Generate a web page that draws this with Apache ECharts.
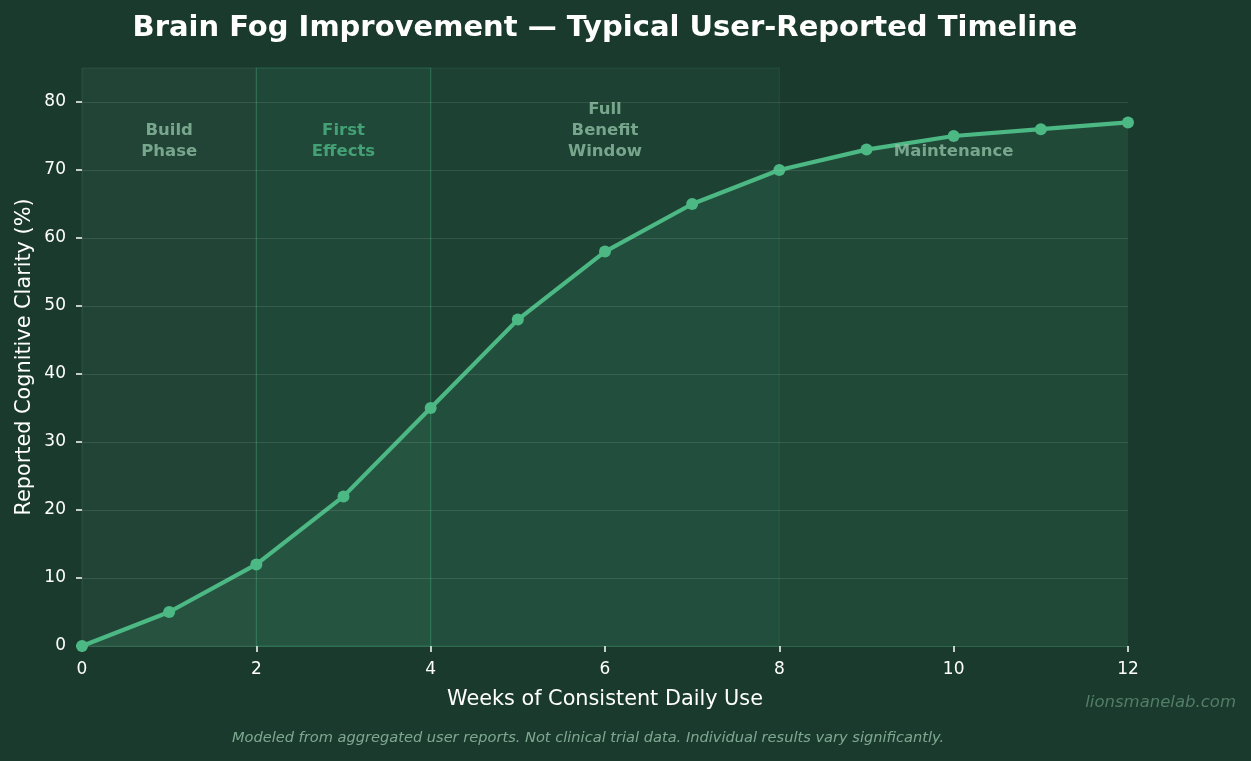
<!DOCTYPE html>
<html>
<head>
<meta charset="utf-8">
<script src="https://cdn.jsdelivr.net/npm/echarts@6/dist/echarts.min.js"></script>
<style>
  html, body { margin: 0; padding: 0; background: #1b3a2e; }
  #chart { width: 1251px; height: 761px; }
</style>
</head>
<body>
<div id="chart"></div>
<script>
// weeks and reported clarity values
var weeks = [0, 1, 2, 3, 4, 5, 6, 7, 8, 9, 10, 11, 12];
var clarity = [0, 5, 12, 22, 35, 48, 58, 65, 70, 73, 75, 76, 77];

// timeline phases (x ranges)
var phaseStart = [0, 2, 4];
var phaseEnd = [2, 4, 8];
var phaseColors = ['rgba(130,190,160,0.08)', 'rgba(76,184,132,0.12)', 'rgba(76,184,132,0.06)'];
var phaseBorders = ['rgba(130,190,160,0.12)', 'rgba(76,184,132,0.28)', 'rgba(76,184,132,0.12)'];

// phase labels
var labelNames = ['Build\nPhase', 'First\nEffects', 'Full\nBenefit\nWindow', 'Maintenance'];
var labelX = [1, 3, 6, 10];
var labelY = 71.2;
var labelColors = ['#8fbfa3', '#4cb884', '#8fbfa3', '#8fbfa3'];

var yTicks = [0, 10, 20, 30, 40, 50, 60, 70, 80];

var lineColor = '#4cb884';
var font = 'DejaVu Sans';

var dom = document.getElementById('chart');
var myChart = echarts.init(dom);

var bandData = [];
for (var i = 0; i < phaseStart.length; i++) {
    bandData.push([
        { xAxis: phaseStart[i], yAxis: 0, itemStyle: { color: phaseColors[i], borderColor: phaseBorders[i], borderWidth: 1.2 } },
        { xAxis: phaseEnd[i], yAxis: 85 }
    ]);
}

var gridData = [];
for (var j = 1; j < yTicks.length; j++) {
    gridData.push({ yAxis: yTicks[j] });
}

var labelData = [];
for (var k = 0; k < labelNames.length; k++) {
    labelData.push({
        name: labelNames[k],
        value: [labelX[k], labelY],
        label: { color: labelColors[k] }
    });
}

var pairs = weeks.map(function (w, i) { return [w, clarity[i]]; });

var option = {
    backgroundColor: '#1b3a2e',
    animation: false,
    textStyle: { fontFamily: font },
    grid: { left: 82, right: 123, top: 68, bottom: 115 },
    graphic: [
        {
            type: 'text', x: 605, y: 28,
            style: {
                text: 'Brain Fog Improvement \u2014 Typical User-Reported Timeline',
                fill: '#ffffff', font: 'bold 29px "DejaVu Sans"',
                textAlign: 'center', textVerticalAlign: 'middle'
            }
        },
        {
            type: 'text', x: 588, y: 738,
            style: {
                text: 'Modeled from aggregated user reports. Not clinical trial data. Individual results vary significantly.',
                fill: '#7fa892', font: 'italic 14.6px "DejaVu Sans"',
                textAlign: 'center', textVerticalAlign: 'middle'
            }
        },
        {
            type: 'text', x: 1236, y: 703,
            style: {
                text: 'lionsmanelab.com',
                fill: '#527d67', font: 'italic 16.5px "DejaVu Sans"',
                textAlign: 'right', textVerticalAlign: 'middle'
            }
        }
    ],
    xAxis: {
        type: 'value',
        min: 0, max: 12, interval: 2,
        name: 'Weeks of Consistent Daily Use',
        nameLocation: 'middle',
        nameGap: 43,
        nameTextStyle: { color: '#ffffff', fontSize: 20.8, fontFamily: font },
        axisLine: { show: true, lineStyle: { color: 'rgba(76,184,132,0.35)', width: 1 } },
        axisTick: { show: true, length: 6, lineStyle: { color: '#ffffff', width: 1.5 } },
        axisLabel: { color: '#ffffff', fontSize: 17, margin: 15, fontFamily: font },
        splitLine: { show: false }
    },
    yAxis: {
        type: 'value',
        min: 0, max: 85, interval: 10,
        name: 'Reported Cognitive Clarity (%)',
        nameLocation: 'middle',
        nameGap: 47,
        nameMoveOverlap: false,
        nameTextStyle: { color: '#ffffff', fontSize: 20.8, fontFamily: font },
        axisLine: { show: false },
        axisTick: { show: true, length: 6, customValues: yTicks, lineStyle: { color: '#ffffff', width: 1.5 } },
        axisLabel: { color: '#ffffff', fontSize: 17, margin: 16, customValues: yTicks, fontFamily: font },
        splitLine: { show: false }
    },
    series: [
        {
            name: 'phases',
            type: 'line',
            data: [],
            z: 1,
            silent: true,
            markArea: { silent: true, data: bandData }
        },
        {
            name: 'grid',
            type: 'line',
            data: [],
            z: 2,
            silent: true,
            markLine: {
                silent: true,
                symbol: 'none',
                label: { show: false },
                lineStyle: { color: 'rgba(255,255,255,0.1)', type: 'solid', width: 1.2 },
                data: gridData
            }
        },
        {
            name: 'Clarity',
            type: 'line',
            data: pairs,
            z: 3,
            symbol: 'circle',
            symbolSize: 12,
            lineStyle: { color: lineColor, width: 4.2 },
            itemStyle: { color: lineColor },
            areaStyle: { color: 'rgba(76,184,132,0.17)' }
        },
        {
            name: 'labels',
            type: 'scatter',
            data: labelData,
            z: 4,
            symbolSize: 0,
            silent: true,
            label: {
                show: true,
                position: 'inside',
                formatter: '{b}',
                fontSize: 16.5,
                fontWeight: 'bold',
                fontFamily: font,
                lineHeight: 21,
                align: 'center',
                verticalAlign: 'bottom'
            }
        }
    ]
};

myChart.setOption(option);
</script>
</body>
</html>
